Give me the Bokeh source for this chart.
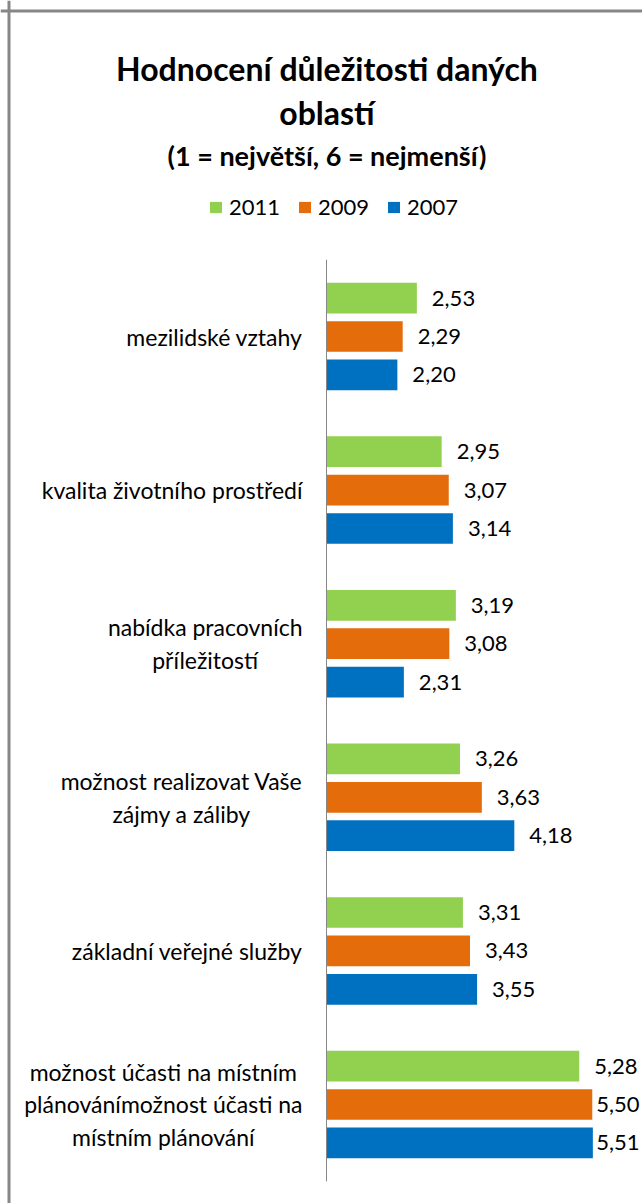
from bokeh.plotting import figure
from bokeh.models import ColumnDataSource, Range1d, Span, Legend, LegendItem
from bokeh.transform import dodge
from bokeh.core.properties import value
from bokeh.embed import file_html
from bokeh.resources import INLINE

# ---------------- data ----------------
categories = [
    "mezilidské vztahy",
    "kvalita životního prostředí",
    "nabídka pracovních\npříležitostí",
    "možnost realizovat Vaše\nzájmy a záliby",
    "základní veřejné služby",
    "možnost účasti na místním\nplánovánímožnost účasti na\nmístním plánování",
]
years = ["2011", "2009", "2007"]
v2011 = [2.53, 2.95, 3.19, 3.26, 3.31, 5.28]
v2009 = [2.29, 3.07, 3.08, 3.63, 3.43, 5.50]
v2007 = [2.20, 3.14, 2.31, 4.18, 3.55, 5.51]
axis_min = 1
title_lines = ["Hodnocení důležitosti daných", "oblastí"]
subtitle = "(1 = největší, 6 = nejmenší)"

# ---------------- layout constants ----------------
FIG_W, FIG_H = 642, 1203
AXIS_PX = 326          # px of x = axis_min
PX_PER_X = 59.06
GC0 = 336              # px (from top) of first group centre
PITCH = 153.6
LABEL_GAP, LABEL_W, RIGHT_LIMIT = 15, 43, 639

def fx(px):
    return axis_min + (px - AXIS_PX) / PX_PER_X

def fy(py):
    return (py - GC0) / PITCH

FONT = "Lato"
GREEN, ORANGE, BLUE = "#92D050", "#E46C0A", "#0070C0"

def fmt(v):
    return f"{v:.2f}".replace(".", ",")

def label_pos(vals):
    xs, al, off = [], [], []
    for v in vals:
        end_px = AXIS_PX + (v - axis_min) * PX_PER_X
        if end_px + LABEL_GAP + LABEL_W > RIGHT_LIMIT:
            xs.append(fx(RIGHT_LIMIT)); al.append("right"); off.append(0)
        else:
            xs.append(v); al.append("left"); off.append(LABEL_GAP)
    return xs, al, off

idx = list(range(len(categories)))
data = dict(idx=idx, cat=categories)
for yr, vals in zip(years, [v2011, v2009, v2007]):
    data["v" + yr] = vals
    data["t" + yr] = [fmt(v) for v in vals]
    xs, al, off = label_pos(vals)
    data["x" + yr] = xs
    data["a" + yr] = al
    data["o" + yr] = off
src = ColumnDataSource(data)

p = figure(width=FIG_W, height=FIG_H, output_backend="svg", toolbar_location=None,
           x_range=Range1d(fx(0), fx(FIG_W)), y_range=Range1d(fy(FIG_H), fy(0)),
           x_axis_location=None, y_axis_location=None, min_border=0)
p.grid.visible = False
p.outline_line_color = None
p.background_fill_color = "white"
p.border_fill_color = "white"

# bars + value labels
renderers = []
for yr, col, off in zip(years, [GREEN, ORANGE, BLUE], [-0.25, 0.0, 0.25]):
    r = p.hbar(y=dodge("idx", off, range=p.y_range), left=axis_min, right="v" + yr,
               height=0.2, source=src, fill_color=col, line_color=None)
    renderers.append(r)
    p.text(x="x" + yr, y=dodge("idx", off, range=p.y_range), text="t" + yr, source=src,
           x_offset="o" + yr, text_align="a" + yr, text_baseline="middle",
           text_font=value(FONT), text_font_size="22px", text_color="#000000")

# vertical axis line
p.segment(x0=axis_min, x1=axis_min, y0=-0.5, y1=len(categories) - 0.5,
          line_color="#878787", line_width=1)

# category labels
p.text(x=fx(AXIS_PX - 24), y="idx", text="cat", source=src,
       anchor=value("center_right"), text_align="center", text_baseline="middle",
       text_line_height=1.16, text_font=value(FONT), text_font_size="23px",
       text_color="#000000")

# titles
p.text(x=[fx(326.5)] * 2, y=[fy(68), fy(112)], text=title_lines,
       text_align="center", text_baseline="alphabetic",
       text_font=value(FONT), text_font_style="bold", text_font_size="32px",
       text_color="#000000")
p.text(x=[fx(326.5)], y=[fy(155)], text=[subtitle],
       text_align="center", text_baseline="alphabetic",
       text_font=value(FONT), text_font_style="bold", text_font_size="27px",
       text_color="#000000")

# legend
legend = Legend(items=[LegendItem(label=yr, renderers=[r]) for yr, r in zip(years, renderers)],
                orientation="horizontal", location=(208, FIG_H - 220),
                glyph_width=15, glyph_height=14, label_standoff=6, spacing=17,
                label_height=26, padding=0, margin=0,
                border_line_color=None, background_fill_alpha=0,
                label_text_font=FONT, label_text_font_size="22px", label_text_color="#000000")
p.add_layout(legend)

# chart border (left & top)
p.add_layout(Span(location=fx(8.5), dimension="height", line_color="#878787", line_width=3))
p.add_layout(Span(location=fy(10.5), dimension="width", line_color="#878787", line_width=3))

open("out.html", "w").write(file_html(p, INLINE))
